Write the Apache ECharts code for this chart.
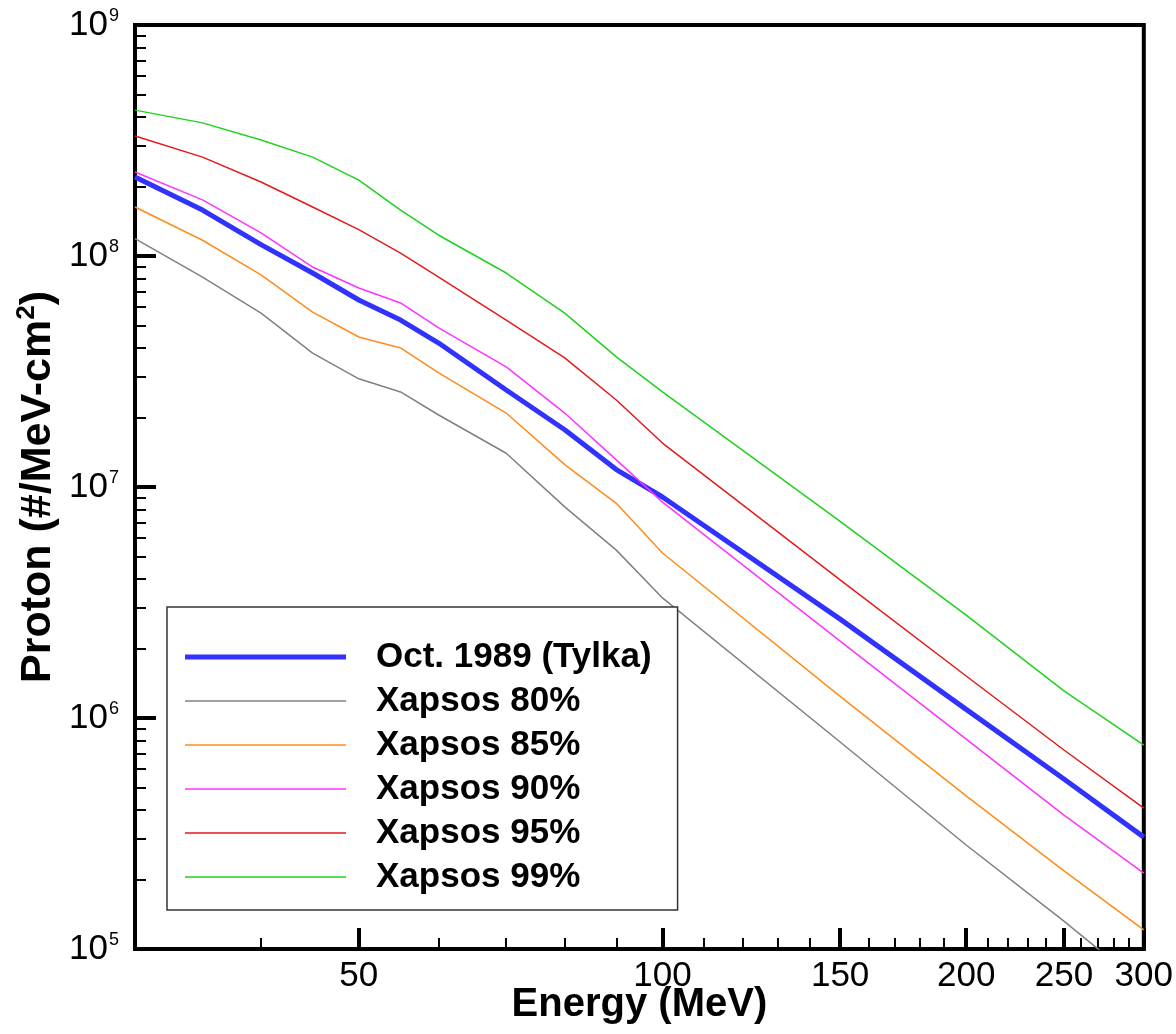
<!DOCTYPE html>
<html>
<head>
<meta charset="utf-8">
<title>Proton spectrum</title>
<script src="https://cdn.jsdelivr.net/npm/echarts@6.0.0/dist/echarts.min.js"></script>
<style>
html, body { margin: 0; padding: 0; background: #fff; }
#main { width: 1176px; height: 1034px; }
</style>
</head>
<body>
<div id="main"></div>
<script>
// 能量 (MeV)
var energy = [30, 35, 40, 45, 50, 55, 60, 70, 80, 90, 100, 150, 200, 250, 300];

// 各曲线的质子通量 (#/MeV-cm2)
var tylka1989 = [2.20e8, 1.58e8, 1.12e8, 8.44e7, 6.45e7, 5.28e7, 4.20e7, 2.63e7, 1.77e7, 1.19e7, 9.05e6, 2.68e6, 1.09e6, 5.44e5, 3.05e5];
var xapsos80 = [1.19e8, 8.10e7, 5.66e7, 3.80e7, 2.94e7, 2.58e7, 2.05e7, 1.40e7, 8.20e6, 5.33e6, 3.31e6, 7.87e5, 2.82e5, 1.32e5, 6.90e4];
var xapsos85 = [1.63e8, 1.17e8, 8.28e7, 5.72e7, 4.46e7, 4.00e7, 3.12e7, 2.09e7, 1.25e7, 8.50e6, 5.18e6, 1.24e6, 4.60e5, 2.18e5, 1.21e5];
var xapsos90 = [2.31e8, 1.75e8, 1.26e8, 8.96e7, 7.27e7, 6.26e7, 4.88e7, 3.31e7, 2.09e7, 1.31e7, 8.60e6, 2.15e6, 8.10e5, 3.80e5, 2.13e5];
var xapsos95 = [3.31e8, 2.68e8, 2.09e8, 1.63e8, 1.30e8, 1.03e8, 8.10e7, 5.28e7, 3.62e7, 2.38e7, 1.55e7, 3.96e6, 1.52e6, 7.27e5, 4.07e5];
var xapsos99 = [4.28e8, 3.77e8, 3.18e8, 2.68e8, 2.13e8, 1.58e8, 1.23e8, 8.44e7, 5.66e7, 3.66e7, 2.58e7, 7.10e6, 2.79e6, 1.31e6, 7.64e5];

var seriesNames = ['Oct. 1989 (Tylka)', 'Xapsos 80%', 'Xapsos 85%', 'Xapsos 90%', 'Xapsos 95%', 'Xapsos 99%'];
var seriesValues = [tylka1989, xapsos80, xapsos85, xapsos90, xapsos95, xapsos99];
var seriesColors = ['#3232ff', '#808080', '#ff8c1a', '#ff33ff', '#e61919', '#1ed21e'];
var seriesWidths = [5, 1.5, 1.5, 1.5, 1.5, 1.5];

// 刻度
var xMajorTicks = [50, 100, 150, 200, 250, 300];
var xMinorTicks = [40, 60, 70, 80, 90, 110, 120, 130, 140, 160, 170, 180, 190, 210, 220, 230, 240, 260, 270, 280, 290];
var yDecades = [5, 6, 7, 8, 9];
var yMinorFactors = [2, 3, 4, 5, 6, 7, 8, 9];

var xMin = 30, xMax = 300;

function lg(v) {
    return Math.log(v) / Math.LN10;
}

// 对数坐标: 数据先取log10再交给数值轴
function toPoints(vals) {
    var pts = [];
    for (var i = 0; i < energy.length; i++) {
        pts.push([lg(energy[i]), lg(vals[i])]);
    }
    return pts;
}

var xMajorLog = xMajorTicks.map(lg);
var xMinorLog = xMinorTicks.map(lg);
var yMinorLog = [];
for (var n = 5; n < 9; n++) {
    for (var k = 0; k < yMinorFactors.length; k++) {
        yMinorLog.push(n + lg(yMinorFactors[k]));
    }
}

var font = 'Liberation Sans, Arial, sans-serif';

// 图例图标: 一条横线, 粗细跟曲线一样 (前两个M点撑开整个图标框)
function legendLine(w) {
    var y0 = 7 - w / 2, y1 = 7 + w / 2;
    return 'path://M0,0 M161,14 M0,' + y0 + ' L161,' + y0 + ' L161,' + y1 + ' L0,' + y1 + ' Z';
}

var series = [];
var legendData = [];
for (var i = 0; i < seriesNames.length; i++) {
    series.push({
        name: seriesNames[i],
        type: 'line',
        symbol: 'none',
        clip: true,
        data: toPoints(seriesValues[i]),
        lineStyle: { color: seriesColors[i], width: seriesWidths[i] },
        itemStyle: { color: seriesColors[i] },
        z: 3
    });
    legendData.push({
        name: seriesNames[i],
        icon: legendLine(seriesWidths[i]),
        itemStyle: { color: seriesColors[i], borderWidth: 0 }
    });
}

var myChart = echarts.init(document.getElementById('main'));

var option = {
    animation: false,
    backgroundColor: '#fff',
    grid: {
        left: 135, right: 31, top: 25, bottom: 85,
        show: true, borderColor: '#000', borderWidth: 4
    },
    legend: {
        orient: 'vertical',
        left: 167, top: 607,
        padding: [28, 26, 11, 18],
        backgroundColor: '#fff',
        borderColor: '#333',
        borderWidth: 1.5,
        itemWidth: 161,
        itemHeight: 14,
        itemGap: 0,
        data: legendData,
        textStyle: {
            fontFamily: font, fontSize: 35, fontWeight: 'bold', color: '#000',
            lineHeight: 44, padding: [0, 0, 0, 25]
        },
        z: 10
    },
    xAxis: [{
        type: 'value',
        min: lg(xMin), max: lg(xMax),
        position: 'bottom',
        axisLine: { show: true, onZero: false, lineStyle: { color: '#000', width: 4 } },
        axisTick: { show: true, inside: true, length: 21, customValues: xMajorLog, lineStyle: { color: '#000', width: 4 } },
        axisLabel: {
            customValues: xMajorLog,
            formatter: function (v) { return Math.round(Math.pow(10, v)); },
            fontFamily: font, fontSize: 35, color: '#000', margin: 10
        },
        splitLine: { show: false },
        name: 'Energy (MeV)',
        nameLocation: 'middle',
        nameGap: 36,
        nameMoveOverlap: false,
        nameTextStyle: { fontFamily: font, fontSize: 40, fontWeight: 'bold', color: '#000' }
    }, {
        type: 'value',
        min: lg(xMin), max: lg(xMax),
        position: 'bottom',
        axisLine: { show: false, onZero: false },
        axisTick: { show: true, inside: true, length: 11, customValues: xMinorLog, lineStyle: { color: '#000', width: 2 } },
        axisLabel: { show: false },
        splitLine: { show: false }
    }],
    yAxis: [{
        type: 'value',
        min: 5, max: 9,
        position: 'left',
        axisLine: { show: true, onZero: false, lineStyle: { color: '#000', width: 4 } },
        axisTick: { show: true, inside: true, length: 21, customValues: yDecades, lineStyle: { color: '#000', width: 4 } },
        axisLabel: {
            customValues: yDecades,
            formatter: function (v) { return '{b|10}{s|' + Math.round(v) + '}'; },
            margin: 16,
            rich: {
                b: { fontFamily: font, fontSize: 35, color: '#000' },
                s: { fontFamily: font, fontSize: 18, color: '#000', padding: [0, 0, 18, 1] }
            }
        },
        splitLine: { show: false },
        name: 'Proton (#/MeV-cm{sup|2})',
        nameLocation: 'middle',
        nameGap: 73,
        nameMoveOverlap: false,
        nameTextStyle: {
            fontFamily: font, fontSize: 43, fontWeight: 'bold', color: '#000',
            rich: {
                sup: { fontFamily: font, fontSize: 26, fontWeight: 'bold', color: '#000', padding: [0, 0, 22, 0] }
            }
        }
    }, {
        type: 'value',
        min: 5, max: 9,
        position: 'left',
        axisLine: { show: false, onZero: false },
        axisTick: { show: true, inside: true, length: 11, customValues: yMinorLog, lineStyle: { color: '#000', width: 2 } },
        axisLabel: { show: false },
        splitLine: { show: false }
    }],
    series: series
};

myChart.setOption(option);
</script>
</body>
</html>
